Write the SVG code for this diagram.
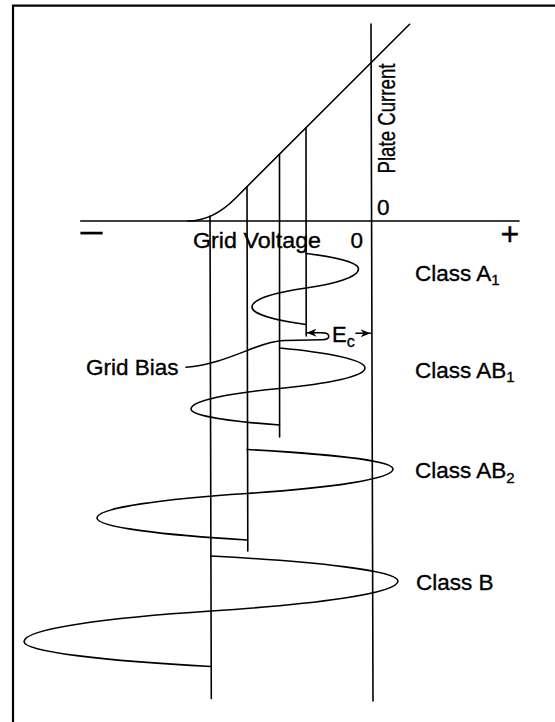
<svg xmlns="http://www.w3.org/2000/svg" width="555" height="722" viewBox="0 0 555 722">
<style>
.ln{stroke:#000;fill:none;stroke-width:1.6;stroke-linecap:round;stroke-linejoin:round}
.fr{stroke:#000;fill:none;stroke-width:2.2}
.t{font-family:"Liberation Sans",Arial,sans-serif;font-size:22.5px;fill:#000;stroke:#000;stroke-width:0.35}
.s{font-size:15px}
</style>
<defs>
<marker id="ah" markerUnits="userSpaceOnUse" markerWidth="11" markerHeight="8" refX="10" refY="4" orient="auto">
<path d="M0,0 L10,4 L0,8 L3,4 Z" fill="#000"/>
</marker>
</defs>
<rect x="0" y="0" width="555" height="722" fill="#fff"/>
<g id="frame">
<path class="fr" d="M13,722 V5.7 H555"/>
</g>
<g id="axes">
<line class="ln" x1="80.7" y1="221" x2="519" y2="221"/>
<line class="ln" x1="371" y1="24" x2="373" y2="701"/>
<text class="t" x="78.5" y="244" textLength="26" lengthAdjust="spacingAndGlyphs" style="font-size:32px">−</text>
<text class="t" x="500.5" y="244.7" style="font-size:32px">+</text>
<text class="t" x="377" y="215">0</text>
<text class="t" x="350.5" y="248.3">0</text>
<text class="t" x="193" y="248.3" textLength="128" lengthAdjust="spacingAndGlyphs">Grid Voltage</text>
<text class="t" transform="translate(395,173.5) rotate(-90)" textLength="110" lengthAdjust="spacingAndGlyphs" style="font-size:24px">Plate Current</text>
</g>
<g id="characteristic">
<path class="ln" d="M188,221 Q213,221 236,197.7 L409.6,24.3"/>
</g>
<g id="bias-lines">
<line class="ln" x1="210" y1="216" x2="211.3" y2="698.5"/>
<line class="ln" x1="247" y1="186.7" x2="247.8" y2="551"/>
<line class="ln" x1="279.5" y1="154.2" x2="279.6" y2="437"/>
<line class="ln" x1="306" y1="127.7" x2="306.2" y2="336"/>
</g>
<g id="class-a1">
<path class="ln" d="M306,253.5 C334.9,256.91 358.5,262.49 358.5,269 C358.5,276.98 334.9,283.82 306,288 C276.3,292.18 252,299.02 252,307 C252,314.35 276.3,320.65 306,324.5"/>
<text class="t" x="415" y="281">Class A<tspan class="s" dy="4">1</tspan></text>
</g>
<g id="class-ab1">
<path class="ln" d="M279.5,348 C326.5,352.4 365,359.6 365,368 C365,376.61 326.5,383.99 279.5,388.5 C230.8,393.01 191,400.39 191,409 C191,415.72 230.8,421.48 279.5,425"/>
<text class="t" x="415" y="377.7">Class AB<tspan class="s" dy="4">1</tspan></text>
</g>
<g id="class-ab2">
<path class="ln" d="M247,449.5 C327.3,453.79 393,460.81 393,469 C393,479.29 327.3,488.11 247,493.5 C164.5,498.89 97,507.71 97,518 C97,527.24 164.5,535.16 247,540"/>
<text class="t" x="415" y="477.7">Class AB<tspan class="s" dy="5">2</tspan></text>
</g>
<g id="class-b">
<path class="ln" d="M211,556 C313.85,561.5 398,570.5 398,581 C398,593.6 313.85,604.4 211,611 C108.15,617.71 24,628.69 24,641.5 C24,652 108.15,661 211,666.5"/>
<text class="t" x="416" y="590">Class B</text>
</g>
<g id="grid-bias">
<text class="t" x="86" y="375">Grid Bias</text>
</g>
<g id="connectors">
<path class="ln" d="M322,332.7 C331,332.7 331,339.7 322,339.7 L285,340.5 C258,341 228,364 186,367.3"/>
<line class="ln" x1="322" y1="332.7" x2="306.5" y2="332.7" marker-end="url(#ah)"/>
<line class="ln" x1="356" y1="333.3" x2="370.5" y2="333.3" marker-end="url(#ah)"/>
</g>
<g id="ec-label">
<text class="t" x="332" y="341.5" style="font-size:22px">E<tspan style="font-size:16px" dy="5">c</tspan></text>
</g>
</svg>
